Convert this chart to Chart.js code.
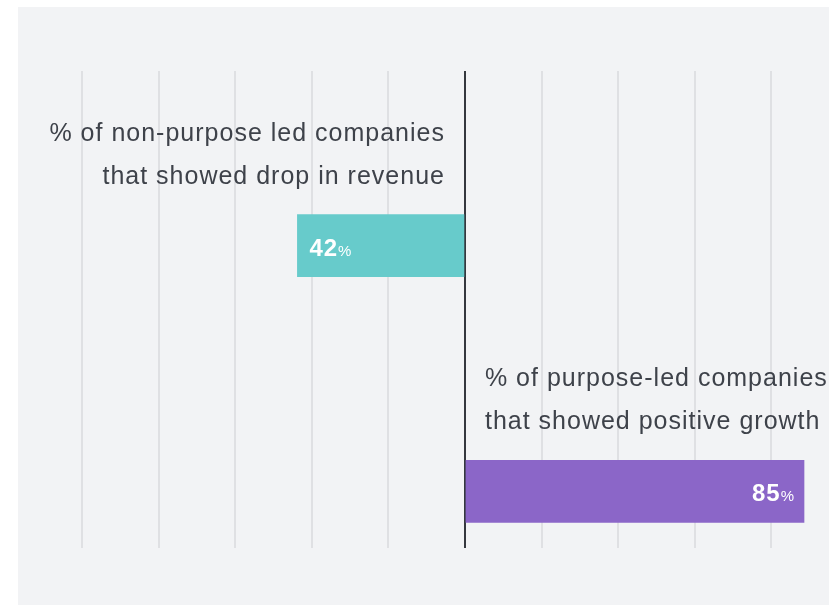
<!DOCTYPE html>
<html>
<head>
<meta charset="utf-8">
<script src="https://cdn.jsdelivr.net/npm/chart.js@4/dist/chart.umd.min.js"></script>
<style>
  html, body { margin: 0; padding: 0; background: #ffffff; }
  #wrap { width: 829px; height: 606px; }
</style>
</head>
<body>
<div id="wrap"><canvas id="growthChart"></canvas></div>
<script>
  // data
  const categories = [
    ['% of non-purpose led companies', 'that showed drop in revenue'],
    ['% of purpose-led companies', 'that showed positive growth']
  ];
  const values = [-42, 85];
  const rows = [1, 2];
  const barColors = ['#67cbcb', '#8b66c8'];
  // vertical grid positions (no labels shown)
  const gridTicks = [-96, -76.8, -57.6, -38.4, -19.2, 0, 19.2, 38.4, 57.6, 76.8];

  const points = values.map((v, i) => ({ x: v, y: rows[i] }));

  const panelPlugin = {
    id: 'panel',
    beforeDraw(chart) {
      const ctx = chart.ctx;
      ctx.save();
      ctx.fillStyle = '#f2f3f5';
      ctx.fillRect(18, 7, chart.width - 18, chart.height - 8);
      ctx.restore();
    }
  };

  const captionPlugin = {
    id: 'captions',
    afterDatasetsDraw(chart) {
      const ctx = chart.ctx;
      const meta = chart.getDatasetMeta(0);
      const zero = chart.scales.x.getPixelForValue(0);
      ctx.save();
      meta.data.forEach((bar, i) => {
        const v = values[i];
        const top = bar.y - bar.height / 2;
        const neg = v < 0;

        // caption lines above the bar
        ctx.fillStyle = '#3e424a';
        ctx.font = '25px "Liberation Sans", Arial, sans-serif';
        ctx.letterSpacing = '1px';
        ctx.textBaseline = 'alphabetic';
        ctx.textAlign = neg ? 'right' : 'left';
        const tx = neg ? zero - 20 : zero + 20;
        ctx.fillText(categories[i][0], tx, top - 74);
        ctx.fillText(categories[i][1], tx, top - 31);

        // value label inside bar: big number, small %
        const num = String(Math.abs(v));
        ctx.fillStyle = '#ffffff';
        ctx.textAlign = 'left';
        ctx.font = 'bold 24px "Liberation Sans", Arial, sans-serif';
        const wNum = ctx.measureText(num).width;
        ctx.font = '15px "Liberation Sans", Arial, sans-serif';
        ctx.letterSpacing = '0px';
        const wPct = ctx.measureText('%').width;
        const x0 = neg ? bar.x + 12 : bar.x - 10 - wNum - wPct;
        ctx.font = 'bold 24px "Liberation Sans", Arial, sans-serif';
        ctx.letterSpacing = '1px';
        ctx.fillText(num, x0, bar.y + 10);
        ctx.font = '15px "Liberation Sans", Arial, sans-serif';
        ctx.letterSpacing = '0px';
        ctx.fillText('%', x0 + wNum, bar.y + 10);
      });
      ctx.restore();
    }
  };

  const ctx = document.getElementById('growthChart').getContext('2d');
  const chart = new Chart(ctx, {
    type: 'bar',
    data: {
      datasets: [{
        data: points,
        backgroundColor: barColors,
        borderWidth: 0,
        barThickness: 62
      }]
    },
    options: {
      indexAxis: 'y',
      responsive: true,
      maintainAspectRatio: false,
      animation: false,
      layout: {
        padding: { left: 82, right: 21, top: 71, bottom: 58 }
      },
      plugins: {
        legend: { display: false },
        tooltip: { enabled: false }
      },
      scales: {
        x: {
          type: 'linear',
          min: -96,
          max: 86,
          afterBuildTicks: (scale) => {
            scale.ticks = gridTicks.map(v => ({ value: v }));
          },
          ticks: { display: false },
          border: { display: false },
          grid: {
            drawTicks: false,
            color: (c) => c.tick && c.tick.value === 0 ? '#35383e' : '#dfe0e3',
            lineWidth: 2
          }
        },
        y: {
          type: 'linear',
          reverse: true,
          offset: false,
          min: 0.29,
          max: 2.23,
          display: false,
          grid: { display: false }
        }
      }
    },
    plugins: [panelPlugin, captionPlugin]
  });
</script>
</body>
</html>
